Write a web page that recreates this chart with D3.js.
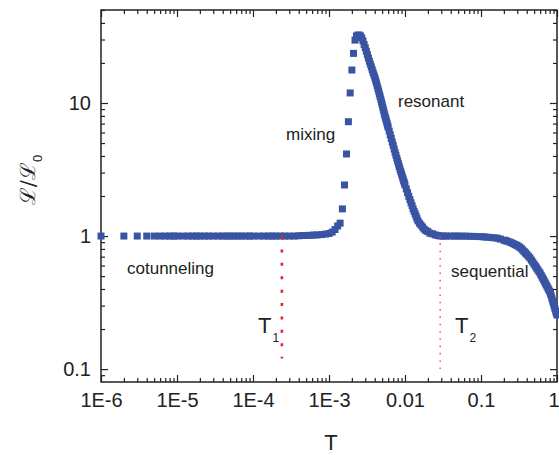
<!DOCTYPE html>
<html>
<head>
<meta charset="utf-8">
<script src="https://cdn.jsdelivr.net/npm/d3@7"></script>
<style>
  html, body { margin: 0; padding: 0; background: #fff; }
  svg { display: block; }
  text { font-family: "Liberation Sans", Arial, sans-serif; fill: #222; }
</style>
</head>
<body>
<svg id="chart" width="559" height="455"></svg>
<script>
// ---------------- data ----------------
const cotunnelingT = [1e-6,2e-6,3e-6,4e-6,5e-6,6e-6,7e-6,8e-6,9e-6,
  1e-5,1.2e-5,1.4e-5,1.6e-5,1.8e-5,2e-5,2.3e-5,2.6e-5,3e-5,3.5e-5,4e-5,4.5e-5,5e-5,5.6e-5,6.3e-5,7e-5,8e-5,9e-5,
  1e-4,1.2e-4,1.4e-4,1.6e-4,1.8e-4,2e-4,2.3e-4,2.6e-4,3e-4,3.5e-4,4e-4,4.5e-4,5e-4,5.6e-4,6.3e-4,7e-4,8e-4,9e-4,
  1.0e-3,1.1e-3,1.2e-3,1.3e-3];
const cotunnelingL = [1,1,1,1,1,1,1,1,1,
  1,1,1,1,1,1,1,1,1,1,1,1,1,1,1,1,1,1,
  1,1,1,1,1,1,1,1,1,1,1.005,1.01,1.01,1.013,1.017,1.02,1.026,1.035,
  1.045,1.07,1.12,1.19];

const mixingT = [1.4e-3,1.5e-3,1.6e-3,1.7e-3,1.8e-3,1.9e-3,2.0e-3,2.1e-3,2.2e-3,2.3e-3,2.4e-3,2.5e-3,2.6e-3];
const mixingL = [1.25,1.60,2.42,4.14,7.23,11.9,17.7,23.6,29.7,31.9,32.4,32.4,31.9];

const resonantT = [2.7e-3,2.8e-3,2.9e-3,3.0e-3,3.1e-3,3.2e-3,3.3e-3,3.4e-3,3.5e-3,3.6e-3,3.7e-3,3.8e-3,3.9e-3,
  4.0e-3,4.1e-3,4.2e-3,4.3e-3,4.4e-3,4.5e-3,4.6e-3,4.7e-3,4.8e-3,4.9e-3,5.0e-3,5.1e-3,5.2e-3,5.3e-3,5.4e-3,
  5.5e-3,5.6e-3,5.7e-3,5.8e-3,5.9e-3,6.0e-3,6.2e-3,6.4e-3,6.6e-3,6.8e-3,7.0e-3,7.2e-3,7.4e-3,7.6e-3,7.8e-3,
  8.0e-3,8.2e-3,8.4e-3,8.6e-3,8.8e-3,9.0e-3,9.2e-3,9.4e-3,9.6e-3,9.8e-3,0.0100,0.0104,0.0108,0.0112,0.0116,
  0.0120,0.0124,0.0128,0.0132,0.0136,0.0140,0.0144,0.0148,0.0155,0.0162,0.0170,0.0178,0.0188,0.0200,0.0213,
  0.0230,0.0250,0.0270,0.0290];
const resonantL = [30.8,29.3,27.5,26.0,24.5,23.1,21.8,20.6,19.6,18.7,17.8,17.0,16.3,
  15.6,14.9,14.2,13.5,12.9,12.3,11.7,11.2,10.7,10.2,9.75,9.31,8.91,8.53,8.18,
  7.85,7.57,7.30,7.04,6.80,6.57,6.15,5.76,5.41,5.08,4.79,4.51,4.26,4.05,3.85,
  3.66,3.49,3.33,3.18,3.05,2.93,2.81,2.70,2.60,2.51,2.42,2.26,2.12,1.99,1.88,
  1.78,1.69,1.60,1.53,1.47,1.41,1.35,1.30,1.25,1.21,1.17,1.13,1.10,1.08,1.05,
  1.04,1.02,1.01,1.00];

const sequentialT = [0.032,0.035,0.040,0.045,0.050,0.056,0.063,0.070,0.080,0.090,0.100,0.110,0.120,0.135,
  0.150,0.165,0.180,0.200,0.210,0.220,0.235,0.250,0.265,0.280,0.295,0.310,0.325,0.340,0.355,0.370,0.385,
  0.400,0.420,0.440,0.460,0.480,0.500,
  0.520,0.540,0.560,0.580,0.600,0.620,0.640,0.660,0.680,0.700,0.720,0.740,0.760,0.780,0.800,
  0.820,0.840,0.860,0.880,0.900,0.920,0.940,0.960,0.980,1.000];
const sequentialL = [1.0,1.0,1.0,1.0,1.0,0.999,0.998,0.996,0.994,0.992,0.990,0.985,0.981,0.975,
  0.970,0.963,0.949,0.932,0.924,0.916,0.904,0.892,0.878,0.863,0.851,0.838,0.822,0.804,0.784,0.764,0.746,
  0.728,0.706,0.685,0.660,0.637,0.614,
  0.594,0.575,0.557,0.540,0.525,0.506,0.489,0.473,0.458,0.444,0.431,0.418,0.406,0.395,0.384,
  0.370,0.355,0.338,0.323,0.311,0.297,0.285,0.274,0.263,0.255];

const xMajor = [1e-6,1e-5,1e-4,1e-3,1e-2,1e-1,1];
const xLabels = ["1E-6","1E-5","1E-4","1E-3","0.01","0.1","1"];
const yMajor = [0.1,1,10];
const yLabels = ["0.1","1","10"];

const T1 = 2.4e-4, T1range = [0.12, 1.0];
const T2 = 0.029,  T2range = [0.1, 1.0];

// ---------------- layout ----------------
const svg = d3.select("#chart");
const L = 101, R = 557, TOP = 10, B = 382;
const x = d3.scaleLog().domain([1e-6, 1]).range([L, R]);
const y = d3.scaleLog().domain([0.08, 50]).range([B, TOP]);

const xMinor = [];
for (let e = -6; e < 0; e++) for (let m = 2; m <= 9; m++) xMinor.push(m * Math.pow(10, e));
const yMinor = [0.09];
for (let e = -1; e < 2; e++) for (let m = 2; m <= 9; m++) { const v = m * Math.pow(10, e); if (v <= 50) yMinor.push(v); }

const axisColor = "#222";
function styleAxis(g) {
  g.select(".domain").remove();
  g.selectAll("line").attr("stroke", axisColor).attr("stroke-width", 1.2);
  g.selectAll("text").style("font-size", "20px").attr("fill", "#222");
}

// bottom
const bottomAxis = svg.append("g").attr("transform", `translate(0,${B})`)
  .call(d3.axisBottom(x).tickValues(xMajor).tickFormat((d, i) => xLabels[i]).tickSizeInner(-7).tickSizeOuter(0).tickPadding(11))
  .call(styleAxis);
bottomAxis.selectAll(".tick text").filter(d => d === 1).attr("dx", -3.5);
svg.append("g").attr("transform", `translate(0,${B})`)
  .call(d3.axisBottom(x).tickValues(xMinor).tickFormat("").tickSizeInner(-4).tickSizeOuter(0))
  .call(styleAxis);
// top
svg.append("g").attr("transform", `translate(0,${TOP})`)
  .call(d3.axisTop(x).tickValues(xMajor).tickFormat("").tickSizeInner(-7).tickSizeOuter(0))
  .call(styleAxis);
svg.append("g").attr("transform", `translate(0,${TOP})`)
  .call(d3.axisTop(x).tickValues(xMinor).tickFormat("").tickSizeInner(-4).tickSizeOuter(0))
  .call(styleAxis);
// left
svg.append("g").attr("transform", `translate(${L},0)`)
  .call(d3.axisLeft(y).tickValues(yMajor).tickFormat((d, i) => yLabels[i]).tickSizeInner(-7).tickSizeOuter(0).tickPadding(10))
  .call(styleAxis);
svg.append("g").attr("transform", `translate(${L},0)`)
  .call(d3.axisLeft(y).tickValues(yMinor).tickFormat("").tickSizeInner(-4).tickSizeOuter(0))
  .call(styleAxis);
// right
svg.append("g").attr("transform", `translate(${R},0)`)
  .call(d3.axisRight(y).tickValues(yMajor).tickFormat("").tickSizeInner(-7).tickSizeOuter(0))
  .call(styleAxis);
svg.append("g").attr("transform", `translate(${R},0)`)
  .call(d3.axisRight(y).tickValues(yMinor).tickFormat("").tickSizeInner(-4).tickSizeOuter(0))
  .call(styleAxis);

// frame
svg.append("rect").attr("x", L).attr("y", TOP).attr("width", R - L).attr("height", B - TOP)
  .attr("fill", "none").attr("stroke", axisColor).attr("stroke-width", 1.5);

// ---------------- markers ----------------
const temps = [...cotunnelingT, ...mixingT, ...resonantT, ...sequentialT];
const ratios = [...cotunnelingL, ...mixingL, ...resonantL, ...sequentialL];
const pts = temps.map((t, i) => ({ t, v: ratios[i] }));
const ms = 7;
svg.append("g").selectAll("rect").data(pts).join("rect")
  .attr("x", d => x(d.t) - ms / 2).attr("y", d => y(d.v) - ms / 2)
  .attr("width", ms).attr("height", ms).attr("fill", "#3a54a4");

// ---------------- T1 / T2 dotted lines ----------------
svg.append("line").attr("x1", x(T1)).attr("x2", x(T1)).attr("y1", y(T1range[1])).attr("y2", y(T1range[0]))
  .attr("stroke", "#e5232b").attr("stroke-width", 2.6).attr("stroke-dasharray", "3 10.4");
svg.append("line").attr("x1", x(T2)).attr("x2", x(T2)).attr("y1", y(T2range[1])).attr("y2", y(T2range[0]))
  .attr("stroke", "#e8434a").attr("stroke-width", 1.3).attr("stroke-dasharray", "1.6 5.7");

// ---------------- annotations ----------------
const ann = [
  { s: "cotunneling", x: 127, y: 274 },
  { s: "mixing", x: 286, y: 140 },
  { s: "resonant", x: 398, y: 107 },
  { s: "sequential", x: 451, y: 277 },
];
svg.append("g").selectAll("text").data(ann).join("text")
  .attr("x", d => d.x).attr("y", d => d.y).style("font-size", "17px").text(d => d.s);

function tLabel(px, sub) {
  const t = svg.append("text").attr("x", px).attr("y", 333).style("font-size", "22px");
  t.append("tspan").text("T");
  t.append("tspan").attr("dx", 1).attr("dy", 8.5).style("font-size", "12px").text(sub);
}
tLabel(258, "1");
tLabel(455, "2");

// axis titles
svg.append("text").attr("x", 331).attr("y", 450).attr("text-anchor", "middle").style("font-size", "22px").text("T");
const yt = svg.append("text").attr("transform", "translate(35,180) rotate(-90)").attr("text-anchor", "middle")
  .style("font-size", "21px");
yt.append("tspan").style("font-family", "DejaVu Serif, serif").text("ℒ/ℒ");
yt.append("tspan").attr("dy", 7).style("font-size", "13px").text("0");
</script>
</body>
</html>
